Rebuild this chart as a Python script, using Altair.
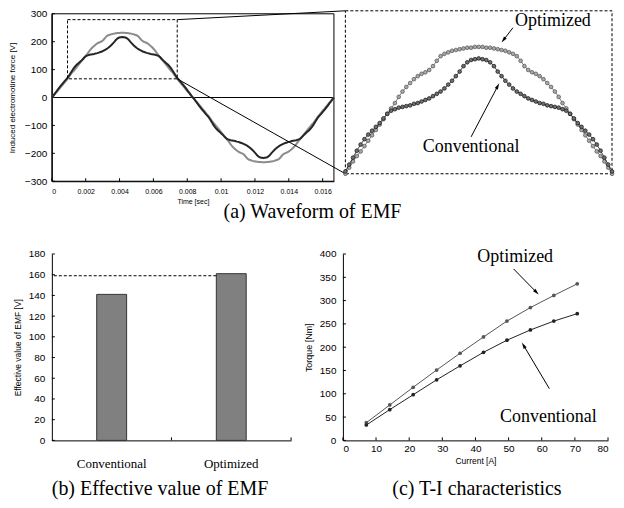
import math
import altair as alt
import pandas as pd

# ---------------------------------------------------------------- data
ANGLE_DEG = list(range(0, 362, 2))      # sample grid: 2 electrical degrees per step, one period
PERIOD_S = 1 / 60

EMF_OPTIMIZED = [
    0, 6, 13, 19, 26, 33, 40, 46, 53, 60, 67, 75, 83, 90, 96, 103, 110, 117, 124, 131,
    138, 145, 152, 159, 167, 174, 180, 185, 190, 194, 197, 199, 202, 207, 214, 220, 223, 225, 227, 228,
    229, 230, 231, 231, 232, 232,
    232, 231, 231, 230, 229, 228, 227, 225, 223, 220, 214, 207, 202, 199, 197, 194, 190, 185, 180, 174,
    167, 159, 152, 145, 138, 131, 124, 117, 110, 103, 96, 90, 83, 75, 67, 60, 53, 46, 40, 33,
    26, 19, 13, 6, 0,
    -6, -13, -19, -26, -33, -40, -46, -53, -60, -67, -75, -83, -90, -96, -103, -110, -117, -124, -131, -138,
    -145, -152, -159, -167, -174, -180, -185, -190, -194, -197, -199, -202, -207, -214, -220, -223, -225, -227, -228, -229,
    -230, -231, -231, -232, -232,
    -232, -231, -231, -230, -229, -228, -227, -225, -223, -220, -214, -207, -202, -199, -197, -194, -190, -185, -180, -174,
    -167, -159, -152, -145, -138, -131, -124, -117, -110, -103, -96, -90, -83, -75, -67, -60, -53, -46, -40, -33,
    -26, -19, -13, -6, 0,
]
EMF_CONVENTIONAL = [
    0, 7, 15, 22, 30, 37, 44, 51, 58, 64, 70, 79, 88, 97, 105, 112, 118, 123, 128, 133,
    139, 145, 149, 151, 153, 154, 155, 156, 158, 159, 161, 163, 165, 168, 171, 174, 178, 183, 188, 194,
    200, 207, 212, 215, 216, 217,
    216, 215, 212, 207, 200, 194, 188, 183, 178, 174, 171, 168, 165, 163, 161, 159, 158, 156, 155, 154,
    153, 151, 149, 145, 139, 133, 128, 123, 118, 112, 105, 97, 88, 79, 70, 64, 58, 51, 44, 37,
    30, 22, 15, 7, 0,
    -7, -15, -22, -30, -37, -44, -51, -58, -64, -70, -79, -88, -97, -105, -112, -118, -123, -128, -133, -139,
    -145, -149, -151, -153, -154, -155, -156, -158, -159, -161, -163, -165, -168, -171, -174, -178, -183, -188, -194, -200,
    -207, -212, -215, -216, -217,
    -216, -215, -212, -207, -200, -194, -188, -183, -178, -174, -171, -168, -165, -163, -161, -159, -158, -156, -155, -154,
    -153, -151, -149, -145, -139, -133, -128, -123, -118, -112, -105, -97, -88, -79, -70, -64, -58, -51, -44, -37,
    -30, -22, -15, -7, 0,
]
TIME_TICKS = [0, 0.002, 0.004, 0.006, 0.008, 0.01, 0.012, 0.014, 0.016]
EMF_TICKS = [-300, -200, -100, 0, 100, 200, 300]
EMF_DOMAIN = [-300, 300]

ZOOM_ANGLE = [20, 160]
ZOOM_EMF = [67, 279]
ZOOM_LABELS = ["Optimized", "Conventional"]
ZOOM_LABEL_ANGLE = [129, 86]
ZOOM_LABEL_EMF = [266, 102]
ZOOM_TAIL_ANGLE = [108, 86]
ZOOM_TAIL_EMF = [257, 115]
ZOOM_HEAD_ANGLE = [103, 100]
ZOOM_HEAD_EMF = [241, 181]

CATEGORIES = ["Conventional", "Optimized"]
EMF_RMS = [141, 161]
EMF_RMS_GUIDE = 159
RMS_TICKS = [0, 20, 40, 60, 80, 100, 120, 140, 160, 180]

CURRENT_A = [7.07, 14.14, 21.21, 28.28, 35.36, 42.43, 49.50, 56.57, 63.64, 70.71]
TORQUE_OPTIMIZED = [38, 76, 114, 151, 187, 222, 256, 285, 311, 336]
TORQUE_CONVENTIONAL = [33, 66, 98, 130, 160, 189, 215, 237, 256, 272]
CURRENT_TICKS = [0, 10, 20, 30, 40, 50, 60, 70, 80]
TORQUE_TICKS = [0, 50, 100, 150, 200, 250, 300, 350, 400]
TI_LABELS = ["Optimized", "Conventional"]
TI_LABEL_X = [52, 62]
TI_LABEL_Y = [393, 51]
TI_TAIL_X = [51.5, 62.3]
TI_TAIL_Y = [368, 111]
TI_HEAD_X = [58.4, 54.5]
TI_HEAD_Y = [318, 204]

CAPTIONS = ["(a) Waveform of EMF", "(b) Effective value of EMF", "(c) T-I characteristics"]

# ---------------------------------------------------------------- style / layout
SANS = "Liberation Sans"
SERIF = "Liberation Serif"
MAIN_W, MAIN_H = 283, 168
INSET_LEFT, INSET_RIGHT = 294.5, 562.0
INSET_TOP, INSET_BOTTOM = -3.0, 160.5
BAR_W, BAR_H = 240, 187
BAR_PAD_INNER, BAR_PAD_OUTER = 0.75, 0.375
TI_W, TI_H = 266, 187
ROW_GAP, COL_GAP = 73, 52
TICK_LEN = 3
CAP_A = (261.5, 199)
CAP_B = (108.5, 236)
CAP_C = (134.5, 236)
ARROW_SHAPE = "M0,-1L0.55,1L-0.55,1Z"
BAR_STEP = BAR_W / (len(CATEGORIES) - BAR_PAD_INNER + 2 * BAR_PAD_OUTER)
BAR_GAP_HALF = BAR_STEP * BAR_PAD_INNER / 2     # distance from a bar edge to the category boundary


def to_time(a):
    return a / 360 * PERIOD_S


def arrow_angles(x0, y0, x1, y1, kx, ky):
    out = []
    for a, b, c, d in zip(x0, y0, x1, y1):
        dx = (c - a) * kx
        dy = -(d - b) * ky
        out.append(math.degrees(math.atan2(dx, -dy)) % 360)
    return out


wave_opt = pd.DataFrame({"angle": ANGLE_DEG, "t": [to_time(a) for a in ANGLE_DEG], "emf": EMF_OPTIMIZED})
wave_conv = pd.DataFrame({"angle": ANGLE_DEG, "t": [to_time(a) for a in ANGLE_DEG], "emf": EMF_CONVENTIONAL})

# ---------------------------------------------------------------- (a) main waveform
x_main = alt.X("t:Q", title="Time [sec]",
               scale=alt.Scale(domain=[0, PERIOD_S], nice=False, zero=False),
               axis=alt.Axis(values=TIME_TICKS, format="~g", labelFontSize=7, titleFontSize=7,
                             labelPadding=6, titlePadding=3))
y_main = alt.Y("emf:Q", title="Induced electromotine force [V]",
               scale=alt.Scale(domain=EMF_DOMAIN, nice=False),
               axis=alt.Axis(values=EMF_TICKS, labelFontSize=10, titleFontSize=8,
                             labelPadding=5, titlePadding=8))

frame = alt.Chart(pd.DataFrame({"t": [0], "t2": [PERIOD_S], "emf": [EMF_DOMAIN[0]], "emf2": [EMF_DOMAIN[1]]})).mark_rect(
    fillOpacity=0, stroke="black", strokeWidth=1).encode(x=x_main, x2="t2:Q", y=y_main, y2="emf2:Q")
zero = alt.Chart(pd.DataFrame({"emf": [0]})).mark_rule(color="black", strokeWidth=1).encode(y=y_main)
ytk = alt.Chart(pd.DataFrame({"emf": EMF_TICKS})).mark_rule(color="black").encode(
    y=y_main, x=alt.value(0), x2=alt.value(TICK_LEN))
xtk = alt.Chart(pd.DataFrame({"t": TIME_TICKS})).mark_rule(color="black").encode(
    x=x_main, y=alt.value(MAIN_H), y2=alt.value(MAIN_H - TICK_LEN))
opt_line = alt.Chart(wave_opt).mark_line(color="#8c8c8c", strokeWidth=2).encode(x=x_main, y=y_main)
conv_line = alt.Chart(wave_conv).mark_line(color="#262626", strokeWidth=2).encode(x=x_main, y=y_main)
zoom_box = alt.Chart(pd.DataFrame({"t": [to_time(ZOOM_ANGLE[0])], "t2": [to_time(ZOOM_ANGLE[1])],
                                   "emf": [ZOOM_EMF[0]], "emf2": [ZOOM_EMF[1]]})).mark_rect(
    fillOpacity=0, stroke="black", strokeWidth=1, strokeDash=[3, 2]).encode(x=x_main, x2="t2:Q", y=y_main, y2="emf2:Q")
conn_top = alt.Chart(pd.DataFrame({"t": [to_time(ZOOM_ANGLE[1])], "emf": [ZOOM_EMF[1]]})).mark_rule(
    color="black", strokeWidth=1).encode(x=x_main, y=y_main, x2=alt.value(INSET_LEFT), y2=alt.value(INSET_TOP))
conn_bot = alt.Chart(pd.DataFrame({"t": [to_time(ZOOM_ANGLE[1])], "emf": [ZOOM_EMF[0]]})).mark_rule(
    color="black", strokeWidth=1).encode(x=x_main, y=y_main, x2=alt.value(INSET_LEFT), y2=alt.value(INSET_BOTTOM))
cap_a = alt.Chart(pd.DataFrame({"caption": [CAPTIONS[0]]})).mark_text(
    font=SERIF, fontSize=20, align="center", baseline="middle", color="black").encode(
    text="caption:N", x=alt.value(CAP_A[0]), y=alt.value(CAP_A[1]))

main_group = alt.layer(frame, zero, ytk, xtk, opt_line, conv_line, zoom_box, conn_top, conn_bot, cap_a)

# ---------------------------------------------------------------- (a) zoomed inset
x_in = alt.X("angle:Q", scale=alt.Scale(domain=ZOOM_ANGLE, range=[INSET_LEFT, INSET_RIGHT], nice=False, zero=False),
             axis=None)
y_in = alt.Y("emf:Q", scale=alt.Scale(domain=ZOOM_EMF, range=[INSET_BOTTOM, INSET_TOP], nice=False, zero=False),
             axis=None)
in_opt = wave_opt[(wave_opt.angle >= ZOOM_ANGLE[0]) & (wave_opt.angle <= ZOOM_ANGLE[1])]
in_conv = wave_conv[(wave_conv.angle >= ZOOM_ANGLE[0]) & (wave_conv.angle <= ZOOM_ANGLE[1])]

in_box = alt.Chart(pd.DataFrame({"angle": [ZOOM_ANGLE[0]], "angle2": [ZOOM_ANGLE[1]],
                                 "emf": [ZOOM_EMF[0]], "emf2": [ZOOM_EMF[1]]})).mark_rect(
    fillOpacity=0, stroke="black", strokeWidth=1, strokeDash=[3, 2]).encode(x=x_in, x2="angle2:Q", y=y_in, y2="emf2:Q")
in_opt_line = alt.Chart(in_opt).mark_line(color="#5a5a5a", strokeWidth=0.8).encode(x=x_in, y=y_in)
in_opt_pts = alt.Chart(in_opt).mark_circle(size=14, color="#a8a8a8", stroke="#505050", strokeWidth=0.7,
                                           opacity=1).encode(x=x_in, y=y_in)
in_conv_line = alt.Chart(in_conv).mark_line(color="#1a1a1a", strokeWidth=0.8).encode(x=x_in, y=y_in)
in_conv_pts = alt.Chart(in_conv).mark_circle(size=14, color="#707070", stroke="#111111", strokeWidth=0.7,
                                             opacity=1).encode(x=x_in, y=y_in)
in_labels = alt.Chart(pd.DataFrame({"angle": ZOOM_LABEL_ANGLE, "emf": ZOOM_LABEL_EMF, "label": ZOOM_LABELS})).mark_text(
    font=SERIF, fontSize=18, align="center", baseline="middle", color="black").encode(x=x_in, y=y_in, text="label:N")
in_arrows = alt.Chart(pd.DataFrame({"angle": ZOOM_TAIL_ANGLE, "emf": ZOOM_TAIL_EMF,
                                    "angle2": ZOOM_HEAD_ANGLE, "emf2": ZOOM_HEAD_EMF})).mark_rule(
    color="black", strokeWidth=1).encode(x=x_in, y=y_in, x2="angle2:Q", y2="emf2:Q")
in_kx = (INSET_RIGHT - INSET_LEFT) / (ZOOM_ANGLE[1] - ZOOM_ANGLE[0])
in_ky = (INSET_BOTTOM - INSET_TOP) / (ZOOM_EMF[1] - ZOOM_EMF[0])
in_heads = alt.Chart(pd.DataFrame({"angle": ZOOM_HEAD_ANGLE, "emf": ZOOM_HEAD_EMF,
                                   "rot": arrow_angles(ZOOM_TAIL_ANGLE, ZOOM_TAIL_EMF, ZOOM_HEAD_ANGLE, ZOOM_HEAD_EMF,
                                                       in_kx, in_ky)})).mark_point(
    shape=ARROW_SHAPE, filled=True, color="black", size=40, opacity=1).encode(
    x=x_in, y=y_in, angle=alt.Angle("rot:Q", scale=None))

inset_group = alt.layer(in_box, in_opt_line, in_opt_pts, in_conv_line, in_conv_pts, in_labels, in_arrows, in_heads)

top = alt.layer(main_group, inset_group).resolve_scale(x="independent", y="independent").properties(
    width=MAIN_W, height=MAIN_H)

# ---------------------------------------------------------------- (b) bar chart
bar_scale = alt.Scale(domain=CATEGORIES, paddingInner=BAR_PAD_INNER, paddingOuter=BAR_PAD_OUTER)
bar_axis = alt.Axis(labelFont=SERIF, labelFontSize=13, labelAngle=0, labelPadding=17)


def x_bar(band_pos=None):
    if band_pos is None:
        return alt.X("category:N", title=None, sort=CATEGORIES, scale=bar_scale, axis=bar_axis)
    return alt.X("category:N", title=None, sort=CATEGORIES, scale=bar_scale, axis=bar_axis, bandPosition=band_pos)


y_bar = alt.Y("value:Q", title="Effective value of EMF [V]", scale=alt.Scale(domain=[0, 180], nice=False),
              axis=alt.Axis(values=RMS_TICKS, labelFontSize=10, titleFontSize=8.5, labelPadding=7, titlePadding=6))

bars = alt.Chart(pd.DataFrame({"category": CATEGORIES, "value": EMF_RMS})).mark_bar(
    color="#808080", stroke="#333333", strokeWidth=1).encode(x=x_bar(), y=y_bar)
guide = alt.Chart(pd.DataFrame({"category": [CATEGORIES[1]], "value": [EMF_RMS_GUIDE]})).mark_rule(
    color="black", strokeWidth=1, strokeDash=[3, 2]).encode(x=x_bar(0), x2=alt.value(0), y=y_bar)
bar_ytk = alt.Chart(pd.DataFrame({"value": RMS_TICKS})).mark_rule(color="black").encode(
    y=y_bar, x=alt.value(0), x2=alt.value(TICK_LEN))
bar_xtk = alt.Chart(pd.DataFrame({"category": CATEGORIES})).mark_rule(
    color="black", xOffset=BAR_GAP_HALF).encode(
    x=x_bar(1), y=alt.value(BAR_H), y2=alt.value(BAR_H - TICK_LEN))
cap_b = alt.Chart(pd.DataFrame({"caption": [CAPTIONS[1]]})).mark_text(
    font=SERIF, fontSize=20, align="center", baseline="middle", color="black").encode(
    text="caption:N", x=alt.value(CAP_B[0]), y=alt.value(CAP_B[1]))
bar_chart = alt.layer(bars, guide, bar_ytk, bar_xtk, cap_b).properties(width=BAR_W, height=BAR_H)

# ---------------------------------------------------------------- (c) T-I characteristics
x_ti = alt.X("current:Q", title="Current [A]", scale=alt.Scale(domain=[0, 80], nice=False),
             axis=alt.Axis(values=CURRENT_TICKS, labelFontSize=10, titleFontSize=8.5, labelPadding=3, titlePadding=3))
y_ti = alt.Y("torque:Q", title="Torque [Nm]", scale=alt.Scale(domain=[0, 400], nice=False),
             axis=alt.Axis(values=TORQUE_TICKS, labelFontSize=10, titleFontSize=9, labelPadding=7, titlePadding=6))
ti_opt = pd.DataFrame({"current": CURRENT_A, "torque": TORQUE_OPTIMIZED})
ti_conv = pd.DataFrame({"current": CURRENT_A, "torque": TORQUE_CONVENTIONAL})

ti_layers = [
    alt.Chart(ti_opt).mark_line(color="#555555", strokeWidth=1).encode(x=x_ti, y=y_ti),
    alt.Chart(ti_opt).mark_circle(size=14, color="#555555", opacity=1).encode(x=x_ti, y=y_ti),
    alt.Chart(ti_conv).mark_line(color="#222222", strokeWidth=1).encode(x=x_ti, y=y_ti),
    alt.Chart(ti_conv).mark_circle(size=14, color="#222222", opacity=1).encode(x=x_ti, y=y_ti),
    alt.Chart(pd.DataFrame({"torque": TORQUE_TICKS})).mark_rule(color="black").encode(
        y=y_ti, x=alt.value(0), x2=alt.value(TICK_LEN)),
    alt.Chart(pd.DataFrame({"current": CURRENT_TICKS})).mark_rule(color="black").encode(
        x=x_ti, y=alt.value(TI_H), y2=alt.value(TI_H - TICK_LEN)),
    alt.Chart(pd.DataFrame({"current": TI_LABEL_X, "torque": TI_LABEL_Y, "label": TI_LABELS})).mark_text(
        font=SERIF, fontSize=18, align="center", baseline="middle", color="black").encode(x=x_ti, y=y_ti, text="label:N"),
    alt.Chart(pd.DataFrame({"current": TI_TAIL_X, "torque": TI_TAIL_Y,
                            "current2": TI_HEAD_X, "torque2": TI_HEAD_Y})).mark_rule(
        color="black", strokeWidth=1).encode(x=x_ti, y=y_ti, x2="current2:Q", y2="torque2:Q"),
    alt.Chart(pd.DataFrame({"current": TI_HEAD_X, "torque": TI_HEAD_Y,
                            "rot": arrow_angles(TI_TAIL_X, TI_TAIL_Y, TI_HEAD_X, TI_HEAD_Y,
                                                TI_W / 80, TI_H / 400)})).mark_point(
        shape=ARROW_SHAPE, filled=True, color="black", size=40, opacity=1).encode(
        x=x_ti, y=y_ti, angle=alt.Angle("rot:Q", scale=None)),
    alt.Chart(pd.DataFrame({"caption": [CAPTIONS[2]]})).mark_text(
        font=SERIF, fontSize=20, align="center", baseline="middle", color="black").encode(
        text="caption:N", x=alt.value(CAP_C[0]), y=alt.value(CAP_C[1])),
]
ti_chart = alt.layer(*ti_layers).properties(width=TI_W, height=TI_H)

# ---------------------------------------------------------------- assemble
bottom = alt.hconcat(bar_chart, ti_chart, spacing=COL_GAP, bounds="flush")
chart = alt.vconcat(top, bottom, spacing=ROW_GAP, bounds="flush").properties(padding=0).configure(
    font=SANS).configure_axis(
    domainColor="black", domainWidth=1, labelColor="black", titleColor="black", titleFontWeight="normal",
    ticks=False, grid=False, labelFont=SANS, titleFont=SANS).configure_view(strokeWidth=0)

chart.save("out.html", embed_options={"renderer": "svg", "actions": False})
